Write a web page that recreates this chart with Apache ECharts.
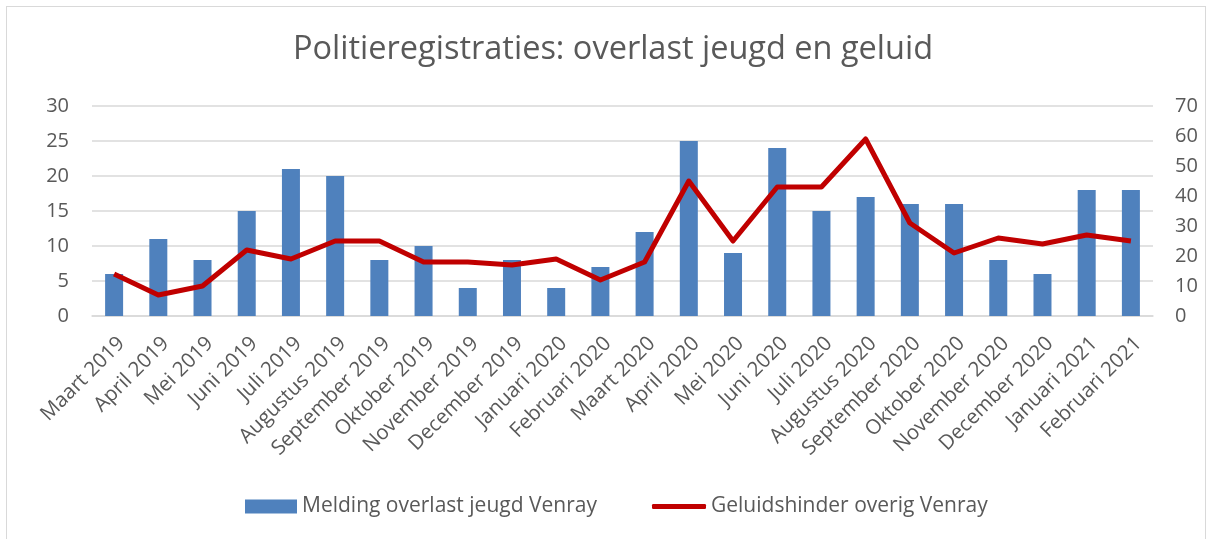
<!DOCTYPE html>
<html>
<head>
<meta charset="utf-8">
<script src="https://cdn.jsdelivr.net/npm/echarts@6/dist/echarts.min.js"></script>
<style>
  html, body { margin: 0; padding: 0; background: #fff; }
  #frame {
    position: absolute; left: 6px; top: 6px; width: 1200px; height: 540px;
    border: 1px solid #d9d9d9; box-sizing: border-box;
  }
  #chart { position: absolute; left: 0; top: 0; width: 1212px; height: 539px; }
</style>
</head>
<body>
<div id="frame"></div>
<div id="chart"></div>
<script>
const months = [
  'Maart 2019', 'April 2019', 'Mei 2019', 'Juni 2019', 'Juli 2019', 'Augustus 2019',
  'September 2019', 'Oktober 2019', 'November 2019', 'December 2019', 'Januari 2020',
  'Februari 2020', 'Maart 2020', 'April 2020', 'Mei 2020', 'Juni 2020', 'Juli 2020',
  'Augustus 2020', 'September 2020', 'Oktober 2020', 'November 2020', 'December 2020',
  'Januari 2021', 'Februari 2021'
]
const jeugd = [6, 11, 8, 15, 21, 20, 8, 10, 4, 8, 4, 7, 12, 25, 9, 24, 15, 17, 16, 16, 8, 6, 18, 18]
const geluid = [14, 7, 10, 22, 19, 25, 25, 18, 18, 17, 19, 12, 18, 45, 25, 43, 43, 59, 31, 21, 26, 24, 27, 25]
const seriesNames = ['Melding overlast jeugd Venray', 'Geluidshinder overig Venray']

const font = '"Open Sans", sans-serif'
const grey = '#595959'
const legendText = { fontSize: 21, color: grey, fontFamily: font }

const chart = echarts.init(document.getElementById('chart'))
chart.setOption({
  animation: false,
  textStyle: { fontFamily: font },
  title: {
    text: 'Politieregistraties: overlast jeugd en geluid',
    left: 288,
    top: 28,
    textStyle: { fontSize: 32.5, fontWeight: 'normal', color: grey, fontFamily: font }
  },
  grid: {
    left: 92,
    right: 59,
    top: 106,
    bottom: 223,
    containLabel: false
  },
  legend: [
    {
      left: 240,
      top: 491,
      itemWidth: 52,
      itemHeight: 14,
      textStyle: legendText,
      data: [{ name: seriesNames[0], icon: 'rect' }]
    },
    {
      left: 647,
      top: 491,
      itemWidth: 54,
      itemHeight: 5,
      textStyle: legendText,
      data: [{ name: seriesNames[1], icon: 'roundRect' }]
    }
  ],
  xAxis: {
    type: 'category',
    data: months,
    axisTick: { show: false },
    axisLine: { lineStyle: { color: '#d9d9d9', width: 1.5 } },
    axisLabel: {
      interval: 0,
      rotate: 45,
      margin: 17,
      verticalAlign: 'top',
      fontSize: 20.5,
      color: grey,
      fontFamily: font
    }
  },
  yAxis: [
    {
      type: 'value',
      min: 0,
      max: 30,
      interval: 5,
      axisLine: { show: false },
      axisTick: { show: false },
      splitLine: { lineStyle: { color: '#d9d9d9', width: 1.5 } },
      axisLabel: { fontSize: 20, color: grey, margin: 23, fontFamily: font }
    },
    {
      type: 'value',
      min: 0,
      max: 70,
      interval: 10,
      position: 'right',
      axisLine: { show: false },
      axisTick: { show: false },
      splitLine: { show: false },
      axisLabel: { fontSize: 20, color: grey, margin: 22, fontFamily: font }
    }
  ],
  series: [
    {
      name: seriesNames[0],
      type: 'bar',
      yAxisIndex: 0,
      data: jeugd,
      barWidth: 18,
      itemStyle: { color: '#4f81bd' }
    },
    {
      name: seriesNames[1],
      type: 'line',
      yAxisIndex: 1,
      data: geluid,
      symbol: 'none',
      lineStyle: { color: '#c00000', width: 5, join: 'round' },
      itemStyle: { color: '#c00000' }
    }
  ]
})
</script>
</body>
</html>
